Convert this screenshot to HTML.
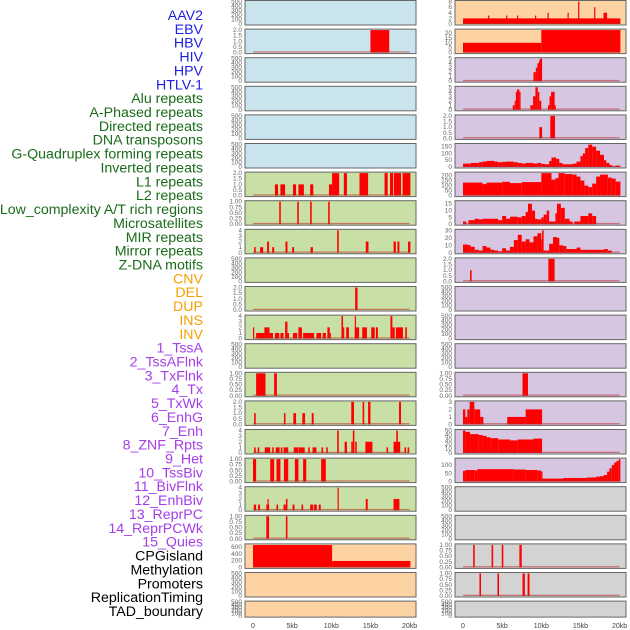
<!DOCTYPE html>
<html><head><meta charset="utf-8"><style>
body{margin:0;background:#fff;}
svg{display:block;font-family:"Liberation Sans",sans-serif;}
</style></head><body>
<svg id="chart" width="630" height="630" viewBox="0 0 630 630"></svg>
<script>
const trackNames=["AAV2","EBV","HBV","HIV","HPV","HTLV-1","Alu repeats","A-Phased repeats","Directed repeats","DNA transposons","G-Quadruplex forming repeats","Inverted repeats","L1 repeats","L2 repeats","Low_complexity A/T rich regions","Microsatellites","MIR repeats","Mirror repeats","Z-DNA motifs","CNV","DEL","DUP","INS","INV","1_TssA","2_TssAFlnk","3_TxFlnk","4_Tx","5_TxWk","6_EnhG","7_Enh","8_ZNF_Rpts","9_Het","10_TssBiv","11_BivFlnk","12_EnhBiv","13_ReprPC","14_ReprPCWk","15_Quies","CPGisland","Methylation","Promoters","ReplicationTiming","TAD_boundary"];
const labelColors=["#1f1fe0","#1f1fe0","#1f1fe0","#1f1fe0","#1f1fe0","#1f1fe0","#1a6b1a","#1a6b1a","#1a6b1a","#1a6b1a","#1a6b1a","#1a6b1a","#1a6b1a","#1a6b1a","#1a6b1a","#1a6b1a","#1a6b1a","#1a6b1a","#1a6b1a","#f5a000","#f5a000","#f5a000","#f5a000","#f5a000","#a43ee8","#a43ee8","#a43ee8","#a43ee8","#a43ee8","#a43ee8","#a43ee8","#a43ee8","#a43ee8","#a43ee8","#a43ee8","#a43ee8","#a43ee8","#a43ee8","#a43ee8","#000","#000","#000","#000","#000"];
const panelBg=["#c9e4ec","#c9e4ec","#c9e4ec","#c9e4ec","#c9e4ec","#c9e4ec","#c8e0a6","#c8e0a6","#c8e0a6","#c8e0a6","#c8e0a6","#c8e0a6","#c8e0a6","#c8e0a6","#c8e0a6","#c8e0a6","#c8e0a6","#c8e0a6","#c8e0a6","#fed3a4","#fed3a4","#fed3a4","#fed3a4","#fed3a4","#d6c6e2","#d6c6e2","#d6c6e2","#d6c6e2","#d6c6e2","#d6c6e2","#d6c6e2","#d6c6e2","#d6c6e2","#d6c6e2","#d6c6e2","#d6c6e2","#d6c6e2","#d6c6e2","#d6c6e2","#d3d3d3","#d3d3d3","#d3d3d3","#d3d3d3","#d3d3d3"];
const E=[0,100,200,300,400,500];
const T2=[0,0.5,1,1.5,2];
const T1=[0,0.25,0.5,0.75,1];
const T4=[0,1,2,3,4];
const yMax=[500,2,500,500,500,500,2,1,4,500,2,4,500,1,2,4,1,4,1,665,500,500, 8,23,5,5,2,166,225,16.5,30,2,500,500,500,1,3,50,136,500,500,1,1,500];
const tickVals=[E,T2,E,E,E,E,T2,T1,T4,E,T2,T4,E,T1,T2,T4,T1,T4,T1,[0,200,400,600],E,E,[0,2,4,6,8],[0,5,10,15,20],[0,1,2,3,4,5],[0,1,2,3,4,5],T2,[0,50,100,150],[0,50,100,150,200],[0,5,10,15],[0,10,20,30],T2,E,E,E,T1,[0,1,2,3],[0,10,20,30,40,50],[0,50,100],E,E,T1,T1,E];
// segments per track: [startKb, endKb, value]
const segs=[
[],
[[15.0,17.4,2]],
[],[],[],[],
[[2.8,3.2,1],[3.5,4.1,1],[5.1,5.5,1],[5.8,6.5,1],[7.3,7.7,1],[9.7,10.1,1],[10.1,11.0,2],[11.6,12.0,2],[13.6,14.7,2],[16.8,17.2,2],[17.5,17.9,2],[18.0,18.9,2],[19.1,20.1,2]],
[[3.35,3.55,1],[5.65,5.85,1],[7.3,7.5,1],[9.6,9.8,1]],
[[0.15,0.35,1],[0.9,1.3,1],[1.8,2.05,2],[2.45,2.7,1],[4.15,4.4,2],[5.0,5.25,1],[7.35,7.65,1],[10.75,10.95,4],[14.4,14.75,2],[17.95,18.25,2],[18.45,18.7,2],[19.8,20.1,2]],
[],
[[13.05,13.35,2]],
[[0,0.15,2],[0.4,1.45,1],[1.45,1.8,2],[1.8,2.1,2],[2.1,2.55,1],[2.8,3.35,1],[3.5,3.9,1],[4.1,4.4,3],[4.4,4.6,1],[5.1,5.65,1],[5.8,6.25,2],[6.4,7.8,1],[8.1,8.7,1],[8.9,9.3,1],[9.5,9.8,2],[9.8,9.95,1],[11.3,11.5,4],[11.5,11.65,2],[11.9,12.25,2],[13.0,13.15,4],[13.0,13.55,2],[13.95,14.55,2],[15.1,15.55,2],[15.7,15.95,2],[17.55,17.8,4],[17.8,18.1,2],[18.25,19.15,2],[19.45,19.65,2]],
[],
[[0.4,1.6,1],[2.7,3.05,1]],
[[0.15,0.35,1],[3.95,4.15,1],[5.15,5.5,1],[6.3,6.65,1],[7.5,7.75,1],[12.55,12.9,2],[14.0,14.2,2],[14.7,15.0,2],[18.65,18.9,2]],
[[0.15,0.35,1],[0.6,0.8,1],[1.5,2.2,1],[2.45,2.65,1],[2.9,3.4,1],[3.55,3.75,1],[3.9,4.5,1],[5.2,5.8,1],[5.85,6.6,1],[7.05,7.25,1],[7.6,8.1,1],[8.75,8.95,1],[9.35,9.55,1],[10.75,10.95,4],[11.7,12.0,2],[12.55,12.75,2],[12.75,12.95,4],[13.05,13.25,2],[14.35,15.25,2],[17.05,17.25,1],[17.95,18.8,2],[18.3,18.5,4],[19.35,19.55,1],[19.75,19.95,1]],
[[0,0.4,1],[2.2,2.7,1],[3.0,3.5,1],[3.95,4.5,1],[5.35,5.8,1],[6.4,6.8,1],[8.7,9.3,1]],
[[0.1,0.4,1],[0.65,0.9,1],[1.7,2.05,1],[1.85,2.0,2],[3.0,3.2,1],[3.9,4.2,1],[4.2,4.4,2],[5.05,5.3,1],[6.2,6.4,1],[7.3,7.7,1],[7.8,8.15,1],[8.4,8.65,1],[10.8,10.95,4],[14.4,14.65,2],[17.95,18.7,2]],
[[1.7,2.05,1],[4.2,4.4,1]],
[[0,10.1,660],[10.1,20.1,190]],
[],[],
[[0,20.1,2],[3.2,3.35,3],[5.5,5.65,3],[6.9,7.05,3],[9.2,9.35,3],[10.8,10.95,4],[13.35,13.5,4],[14.7,14.85,8],[16.75,16.9,6],[17.95,18.4,4]],
[[0,10,10],[10,20.1,23]],
[[9.0,9.3,2],[9.3,9.5,3],[9.5,9.7,4],[9.7,9.8,4.5],[9.8,10.1,5]],
[[6.35,6.6,1],[6.6,6.75,2],[6.75,6.9,4],[6.9,7.2,4.5],[7.2,7.35,4],[8.6,8.95,1],[8.95,9.25,3],[9.25,9.55,5],[9.55,9.75,4],[9.75,10.0,2],[10.85,11.05,1],[11.05,11.25,3],[11.25,11.7,4],[11.7,11.85,1]],
[[9.75,10.1,1],[11.15,11.75,2]],
[[0,1,25],[1,2,30],[2,2.5,35],[2.5,3,40],[3,4,45],[4,4.5,40],[4.5,5,35],[5,5.5,38],[5.5,6.5,40],[6.5,7,35],[7,7.5,30],[7.5,8,25],[8,8.5,30],[8.5,9,30],[9,9.5,25],[9.5,10,30],[10,10.5,22],[10.5,11,20],[11,11.3,45],[11.3,11.9,70],[11.9,12.3,60],[12.3,12.7,30],[12.7,14,20],[14,14.5,25],[14.5,15,40],[15,15.3,80],[15.3,15.6,100],[15.6,16,140],[16,16.5,165],[16.5,17,150],[17,17.5,120],[17.5,18,90],[18,18.3,50],[18.3,18.7,30],[18.7,19,15],[19,19.5,5],[19.5,20.1,10]],
[[0,2.5,130],[2.5,3,115],[3,5,130],[5,6,138],[6,7.5,125],[7.5,10,135],[10,11.3,225],[11.3,11.8,160],[11.8,12.2,175],[12.2,13,225],[13,14,215],[14,14.5,210],[14.5,15,190],[15,15.5,150],[15.5,16,100],[16,16.5,85],[16.5,17,120],[17,17.5,190],[17.5,18.5,210],[18.5,19,180],[19,19.5,170],[19.5,20.1,140]],
[[0,0.4,2],[0.7,1.5,3],[1.5,2,4],[2,2.5,3.5],[2.5,4.5,4],[4.5,5,3],[5,5.5,6],[5.5,6,4],[6,7,5.5],[7,7.5,5],[7.5,8,6],[8,8.3,9],[8.3,8.8,15],[8.8,9.2,10],[9.2,9.5,4],[9.5,10,3.5],[10,10.3,5],[10.3,10.7,7],[10.7,11,10],[11,11.8,2],[11.8,12,8],[12,12.5,15],[12.5,13,12],[13,13.6,4],[13.6,14,2],[14.2,15,2],[15,16,6],[16,16.5,8],[16.5,17,6]],
[[0,0.7,11],[0.7,1,10],[1,1.5,8],[1.5,2,4],[2,2.5,3],[2.5,3,9],[3,3.5,7],[3.5,4,4],[4,4.5,3],[4.5,5,2],[5,5.5,6],[5.5,6,3],[6,6.5,8],[6.5,7,17],[7,7.5,24],[7.5,8,15],[8,8.5,18],[8.5,9,14],[9,9.5,22],[9.5,10,26],[10,10.1,18],[10.1,10.3,30],[10.3,11,3],[11,11.5,12],[11.5,12,21],[12,12.3,20],[12.3,12.8,10],[12.8,13.2,9],[13.2,14.5,5],[14.5,15,7],[15,18,4],[18,18.5,5],[18.5,19,3]],
[[0.9,1.1,1],[10.9,11.7,2]],
[],[],[],
[[7.6,8.3,1]],
[[0,0.3,2],[0.3,0.55,1],[0.55,0.85,2],[0.85,1.45,3],[1.45,2.2,2],[2.2,2.6,1],[5.65,8.0,1],[8.0,10.1,2]],
[[0,0.3,50],[0.3,0.9,47],[0.9,2,42],[2,2.5,40],[2.5,3,38],[3,3.5,35],[3.5,4.5,33],[4.5,6,30],[6,7,28],[7,9,30],[9,10.1,32]],
[[0,0.3,65],[0.3,1.5,70],[1.5,1.8,68],[1.8,6.5,75],[6.5,8,73],[8,9.5,70],[9.5,10,67],[10,10.1,60],[10.1,12.8,18],[12.8,15.8,22],[15.8,17,25],[17,17.5,30],[17.5,18,33],[18,18.4,40],[18.4,18.7,60],[18.7,19,80],[19,19.3,100],[19.3,19.6,115],[19.6,19.9,125],[19.9,20.1,135]],
[],[],
[[1.3,1.5,1],[3.65,3.85,1],[4.95,5.15,1],[7.2,7.5,1]],
[[2.1,2.3,1],[4.4,4.6,1],[7.6,7.9,1],[8.25,8.5,1]],
[]
];
const xTickKb=[0,5,10,15,20];
const xTickLabels=["0","5kb","10kb","15kb","20kb"];

const svg=document.getElementById('chart');
const NS="http://www.w3.org/2000/svg";
function mk(tag,attrs,parent){const e=document.createElementNS(NS,tag);for(const k in attrs)e.setAttribute(k,attrs[k]);(parent||svg).appendChild(e);return e;}
const colX=[245,455], panelW=171, pxPerKb=7.83, zeroOff=8;
function xScale(col,kb){return colX[col]+zeroOff+kb*pxPerKb;}

trackNames.forEach((n,i)=>{
  const t=mk('text',{x:203,y:15+i*13.86+5,'text-anchor':'end','font-size':'14.2',fill:labelColors[i]});
  t.textContent=n;
  
  
});

trackNames.forEach((n,i)=>{
  const col=i<22?0:1, row=i%22;
  const top=0.5+row*28.6, h=row===21?16:24.5;
  const g=mk('g',{});
  
  
  mk('rect',{x:colX[col],y:top,width:panelW,height:h,fill:panelBg[i],stroke:'none'},g);
  const pad=1, ih=h-2*pad, bot=top+h-pad;
  const yS=v=>bot-v/yMax[i]*ih;
  const s=segs[i];
  s.forEach(d=>{
    const x1=xScale(col,d[0]), x2=xScale(col,d[1]);
    const r=mk('rect',{x:x1,y:yS(Math.min(d[2],yMax[i])),width:Math.max(1.2,x2-x1),height:bot-yS(Math.min(d[2],yMax[i])),fill:'#ff0000'},g);
    
    
  });
  if(s.length){
    mk('rect',{x:xScale(col,0),y:bot-1.3,width:xScale(col,20)-xScale(col,0),height:1.3,fill:'rgba(190,40,40,0.55)'},g);
  }
  mk('rect',{x:colX[col],y:top,width:panelW,height:h,fill:'none',stroke:'#666','stroke-width':1},g);
  tickVals[i].forEach(v=>{
    const t=mk('text',{x:colX[col]-3,y:yS(v)+2,'text-anchor':'end','font-size':'6.5',fill:'#666'},g);
    t.textContent=(tickVals[i]===T2?v.toFixed(1):tickVals[i]===T1?v.toFixed(2):String(v));
  });
});

[0,1].forEach(col=>{
  xTickKb.forEach((kb,j)=>{
    const t=mk('text',{x:xScale(col,kb),y:628,'text-anchor':'middle','font-size':'7',fill:'#444'});
    t.textContent=xTickLabels[j];
    
    
  });
});
</script>
</body></html>
